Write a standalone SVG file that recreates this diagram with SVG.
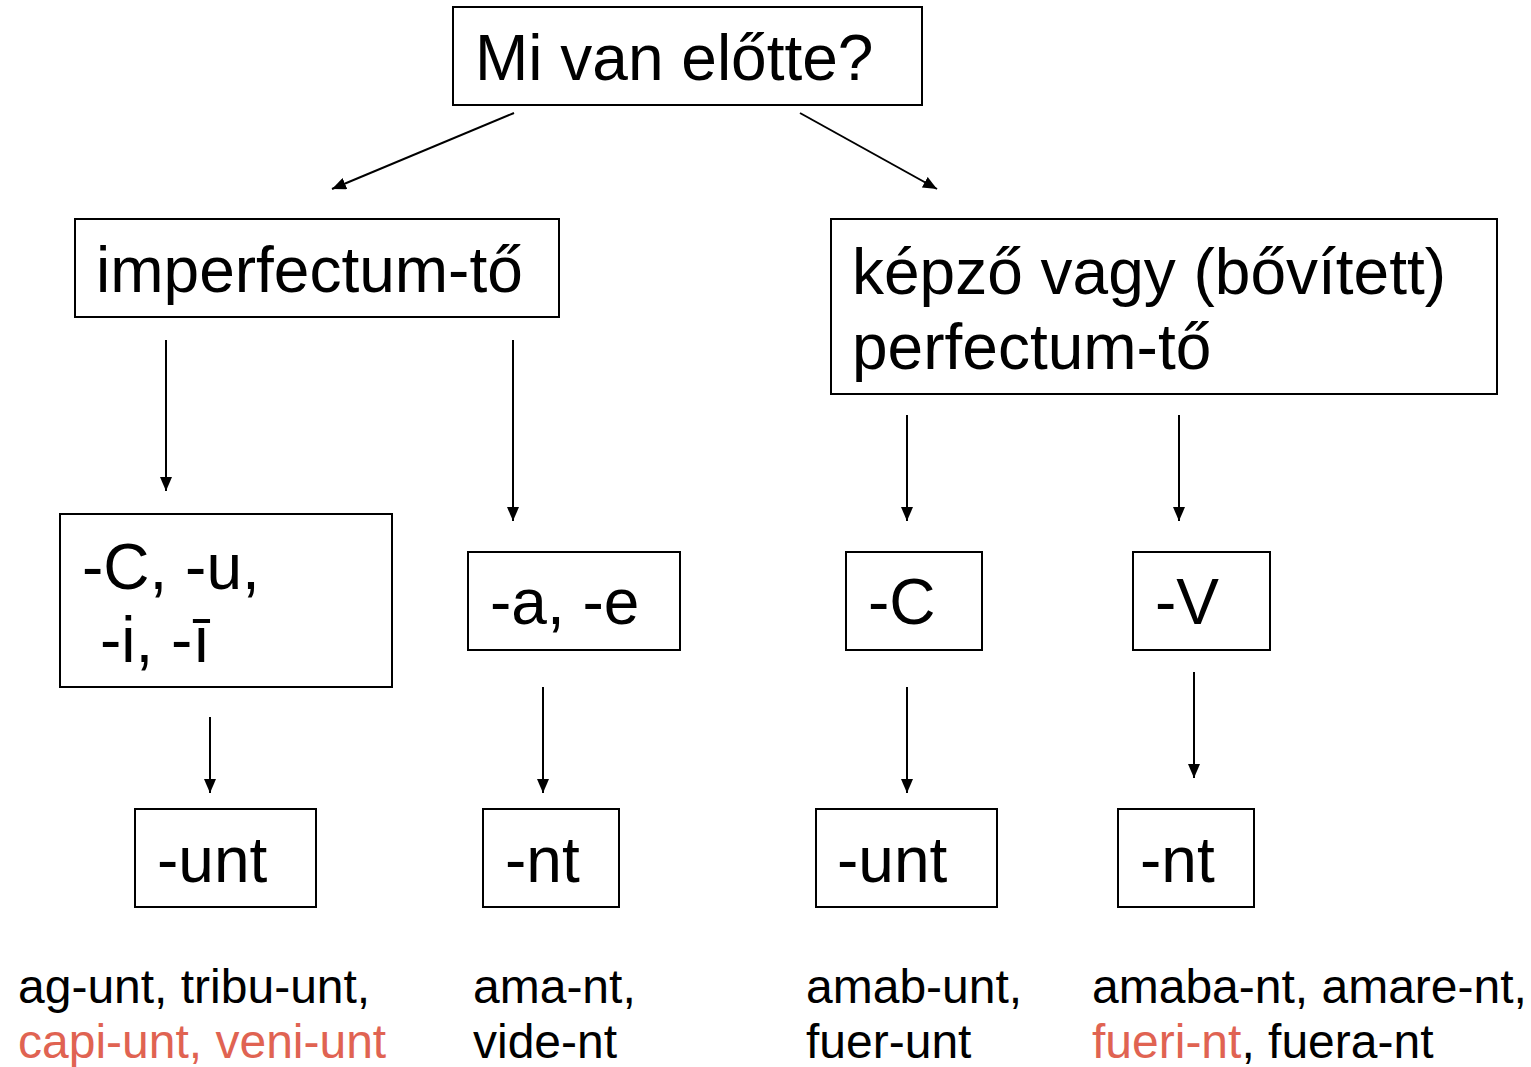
<svg xmlns="http://www.w3.org/2000/svg" width="1531" height="1067" viewBox="0 0 1531 1067">
<style>
  .box { fill: #fff; stroke: #000; stroke-width: 2; }
  .big { font-family: "Liberation Sans", Arial, sans-serif; font-size: 64px; fill: #000; }
  .small { font-family: "Liberation Sans", Arial, sans-serif; font-size: 48px; fill: #000; }
  .red { fill: #E06352; }
  .conn line { stroke: #000; stroke-width: 2; marker-end: url(#arrow); }
</style>
<defs>
  <marker id="arrow" viewBox="0 0 14 12" refX="14" refY="6" markerWidth="14" markerHeight="12" markerUnits="userSpaceOnUse" orient="auto">
    <path d="M0,0 L14,6 L0,12 z" fill="#000"/>
  </marker>
</defs>
<rect width="1531" height="1067" fill="#fff"/>

<g id="root">
  <rect class="box" x="453" y="7" width="469" height="98"/>
  <text class="big" x="475" y="80">Mi van előtte?</text>
</g>
<g id="imperfectum">
  <rect class="box" x="75" y="219" width="484" height="98"/>
  <text class="big" x="96" y="292">imperfectum-tő</text>
</g>
<g id="perfectum">
  <rect class="box" x="831" y="219" width="666" height="175"/>
  <text class="big" x="852" y="294">képző vagy (bővített)</text>
  <text class="big" x="852" y="369">perfectum-tő</text>
</g>
<g id="cu">
  <rect class="box" x="60" y="514" width="332" height="173"/>
  <text class="big" x="82" y="589">-C, -u,</text>
  <text class="big" x="100" y="662">-i, -ī</text>
</g>
<g id="ae">
  <rect class="box" x="468" y="552" width="212" height="98"/>
  <text class="big" x="490" y="624">-a, -e</text>
</g>
<g id="c">
  <rect class="box" x="846" y="552" width="136" height="98"/>
  <text class="big" x="868" y="624">-C</text>
</g>
<g id="v">
  <rect class="box" x="1133" y="552" width="137" height="98"/>
  <text class="big" x="1155" y="624">-V</text>
</g>
<g id="unt1">
  <rect class="box" x="135" y="809" width="181" height="98"/>
  <text class="big" x="157" y="882">-unt</text>
</g>
<g id="nt1">
  <rect class="box" x="483" y="809" width="136" height="98"/>
  <text class="big" x="505" y="882">-nt</text>
</g>
<g id="unt2">
  <rect class="box" x="816" y="809" width="181" height="98"/>
  <text class="big" x="837" y="882">-unt</text>
</g>
<g id="nt2">
  <rect class="box" x="1118" y="809" width="136" height="98"/>
  <text class="big" x="1140" y="882">-nt</text>
</g>

<g id="examples">
  <text class="small" x="18" y="1003">ag-unt, tribu-unt,</text>
  <text class="small red" x="18" y="1058">capi-unt, veni-unt</text>
  <text class="small" x="473" y="1003">ama-nt,</text>
  <text class="small" x="473" y="1058">vide-nt</text>
  <text class="small" x="806" y="1003">amab-unt,</text>
  <text class="small" x="806" y="1058">fuer-unt</text>
  <text class="small" x="1092" y="1003">amaba-nt, amare-nt,</text>
  <text class="small" x="1092" y="1058"><tspan class="red">fueri-nt</tspan>, fuera-nt</text>
</g>

<g class="conn" id="connectors">
  <line x1="514" y1="113" x2="332" y2="189"/>
  <line x1="800" y1="113" x2="937" y2="189"/>
  <line x1="166" y1="340" x2="166" y2="491"/>
  <line x1="513" y1="340" x2="513" y2="521"/>
  <line x1="907" y1="415" x2="907" y2="521"/>
  <line x1="1179" y1="415" x2="1179" y2="521"/>
  <line x1="210" y1="717" x2="210" y2="793"/>
  <line x1="543" y1="687" x2="543" y2="793"/>
  <line x1="907" y1="687" x2="907" y2="793"/>
  <line x1="1194" y1="672" x2="1194" y2="778"/>
</g>
</svg>
